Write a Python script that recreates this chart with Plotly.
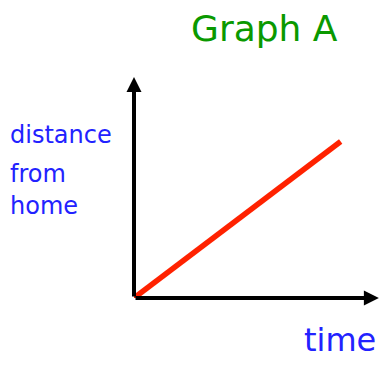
import plotly.graph_objects as go

# distance-time data
time = [0, 10]
distance = [0, 6.3]

# axis arrow tips (data units)
x_axis_end = 11.85
y_axis_end = 8.9

title_text = 'Graph A'
y_label_lines = ['distance', 'from', 'home']
x_label = 'time'

FONT = 'DejaVu Sans'
BLUE = '#2222ff'
GREEN = '#0a9900'

fig = go.Figure()

fig.add_trace(go.Scatter(
    x=time, y=distance,
    mode='lines',
    line=dict(color='#ff2200', width=5.5),
    cliponaxis=False,
    hoverinfo='skip',
    showlegend=False
))

# axes drawn as black arrows from the origin
arrow_style = dict(showarrow=True, arrowhead=2, arrowsize=0.75, arrowwidth=4,
                   arrowcolor='black', axref='x', ayref='y', xref='x', yref='y',
                   text='', standoff=0)
fig.add_annotation(x=x_axis_end, y=0, ax=0, ay=0, **arrow_style)
fig.add_annotation(x=0, y=y_axis_end, ax=0, ay=0, **arrow_style)

fig.add_annotation(text=title_text, xref='paper', yref='paper', x=0.528, y=0.905,
                   xanchor='center', yanchor='middle', showarrow=False,
                   font=dict(family=FONT, size=36, color=GREEN))

y_positions = [0.548, 0.417, 0.31]
for word, ypos in zip(y_label_lines, y_positions):
    fig.add_annotation(text=word, xref='paper', yref='paper', x=-0.508, y=ypos,
                       xanchor='left', yanchor='middle', showarrow=False,
                       font=dict(family=FONT, size=24, color=BLUE))

fig.add_annotation(text=x_label, xref='paper', yref='paper', x=0.677, y=-0.141,
                   xanchor='left', yanchor='middle', showarrow=False,
                   font=dict(family=FONT, size=32, color=BLUE))

fig.update_layout(
    width=382, height=372,
    margin=dict(l=134, r=0, t=0, b=74),
    paper_bgcolor='white',
    plot_bgcolor='white',
    xaxis=dict(range=[0, 12], visible=False, fixedrange=True),
    yaxis=dict(range=[0, 12], visible=False, fixedrange=True),
    showlegend=False
)

# drop the browser's default body margin so the figure sits at the page corner
fig.write_html("out.html", config={'displayModeBar': False},
               post_script="document.body.style.margin='0';")
